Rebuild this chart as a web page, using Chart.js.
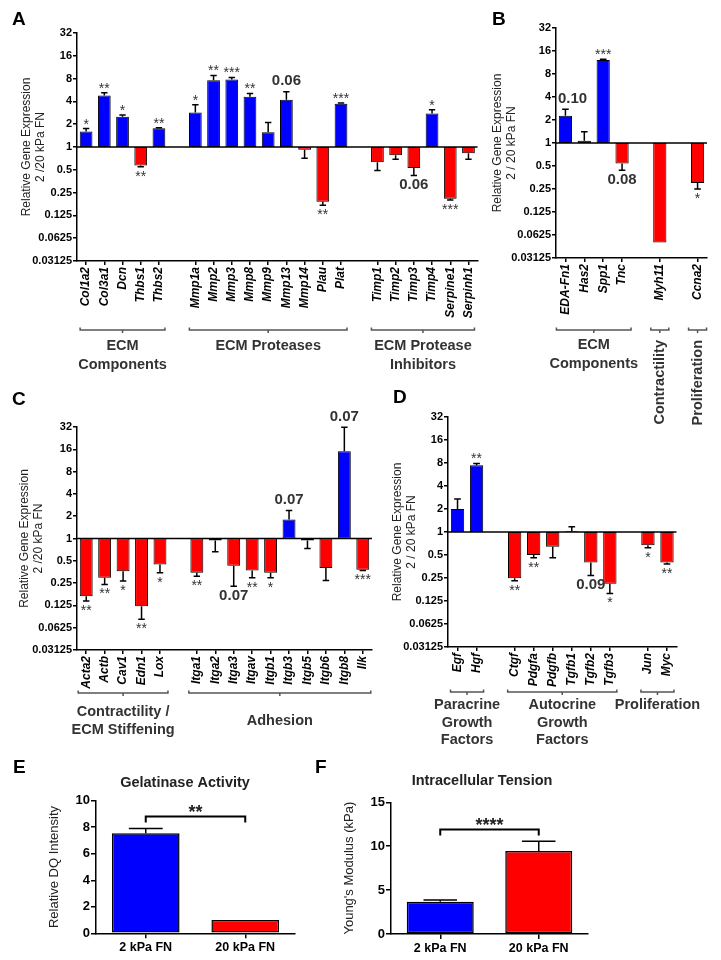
<!DOCTYPE html>
<html>
<head>
<meta charset="utf-8">
<title>Relative gene expression, 2 vs 20 kPa FN</title>
<script src="https://cdn.jsdelivr.net/npm/chart.js@4.4.1/dist/chart.umd.min.js"></script>
<style>
  body { margin: 0; background: #fff; }
  canvas { position: absolute; }
</style>
</head>
<body>
<canvas id="chartA" width="485" height="380" style="left:0;top:0"></canvas>
<canvas id="chartB" width="236" height="440" style="left:485px;top:0"></canvas>
<canvas id="chartC" width="380" height="380" style="left:0;top:380px"></canvas>
<canvas id="chartD" width="341" height="380" style="left:380px;top:380px"></canvas>
<canvas id="chartE" width="300" height="220" style="left:0;top:740px"></canvas>
<canvas id="chartF" width="330" height="220" style="left:300px;top:740px"></canvas>
<script>
// log2 axis used by panels A-D
const foldTicks = [0.03125, 0.0625, 0.125, 0.25, 0.5, 1, 2, 4, 8, 16, 32]

// A: ECM genes ('' = gap between groups)
const aGenes = ['Col1a2', 'Col3a1', 'Dcn', 'Thbs1', 'Thbs2', '', 'Mmp1a', 'Mmp2', 'Mmp3', 'Mmp8', 'Mmp9', 'Mmp13', 'Mmp14', 'Plau', 'Plat', '', 'Timp1', 'Timp2', 'Timp3', 'Timp4', 'Serpine1', 'Serpinh1']
const aValues = [1.6, 4.8, 2.5, 0.57, 1.77, null, 2.85, 7.6, 7.8, 4.6, 1.57, 4.2, 0.92, 0.19, 3.73, null, 0.63, 0.78, 0.53, 2.76, 0.207, 0.83]
const aErrors = [1.75, 5.2, 2.65, 0.55, 1.8, null, 3.6, 8.8, 8.3, 5.1, 2.1, 5.35, 0.71, 0.17, 3.8, null, 0.49, 0.69, 0.42, 3.1, 0.2, 0.69]
const aMarks = ['*', '**', '*', '**', '**', '', '*', '**', '***', '**', '', '0.06', '', '**', '***', '', '', '', '0.06', '*', '***', '']
const aGroupNames = ['ECM\nComponents', 'ECM Proteases', 'ECM Protease\nInhibitors']
const aGroupSpans = [[0, 4], [6, 14], [16, 21]]

// B
const bGenes = ['EDA-Fn1', 'Has2', 'Spp1', 'Tnc', '', 'Myh11', '', 'Ccna2']
const bValues = [2.28, 1.07, 12.2, 0.54, null, 0.0497, null, 0.30]
const bErrors = [2.76, 1.4, 12.5, 0.44, null, null, null, 0.25]
const bMarks = ['0.10', '', '***', '0.08', '', '', '', '*']
const bGroupNames = ['ECM\nComponents', 'Contractility', 'Proliferation']
const bGroupSpans = [[0, 3], [5, 5], [7, 7]]

// C
const cGenes = ['Acta2', 'Actb', 'Cav1', 'Edn1', 'Lox', '', 'Itga1', 'Itga2', 'Itga3', 'Itgav', 'Itgb1', 'Itgb3', 'Itgb5', 'Itgb6', 'Itgb8', 'Ilk']
const cValues = [0.166, 0.295, 0.36, 0.122, 0.445, null, 0.344, 0.94, 0.43, 0.37, 0.344, 1.8, 0.94, 0.40, 15.1, 0.38]
const cErrors = [0.143, 0.24, 0.266, 0.081, 0.344, null, 0.31, 0.66, 0.227, 0.295, 0.295, 2.39, 0.73, 0.27, 31.8, 0.37]
const cMarks = ['**', '**', '*', '**', '*', '', '**', '', '0.07', '**', '*', '0.07', '', '', '0.07', '***']
const cGroupNames = ['Contractility /\nECM Stiffening', 'Adhesion']
const cGroupSpans = [[0, 4], [6, 15]]

// D
const dGenes = ['Egf', 'Hgf', '', 'Ctgf', 'Pdgfa', 'Pdgfb', 'Tgfb1', 'Tgfb2', 'Tgfb3', '', 'Jun', 'Myc']
const dValues = [2.0, 7.46, null, 0.248, 0.5, 0.64, 1.02, 0.40, 0.21, null, 0.67, 0.40]
const dErrors = [2.7, 7.9, null, 0.23, 0.46, 0.46, 1.17, 0.27, 0.157, null, 0.62, 0.38]
const dMarks = ['', '**', '', '**', '**', '', '', '0.09', '*', '', '*', '**']
const dGroupNames = ['Paracrine\nGrowth\nFactors', 'Autocrine\nGrowth\nFactors', 'Proliferation']
const dGroupSpans = [[0, 1], [3, 8], [10, 11]]

// E, F
const conditions = ['2 kPa FN', '20 kPa FN']
const gelatinase = [7.55, 1.0]
const gelatinaseErr = [7.9, null]
const gelatinaseBracket = 8.8
const gelatinaseSig = '**'
const tension = [3.68, 9.45]
const tensionErr = [3.87, 10.56]
const tensionBracket = 11.9
const tensionSig = '****'

const FONT = '"Liberation Sans", Arial, sans-serif'
const BLUE = '#0000ff'
const RED = '#ff0000'

function drawLetter(ctx, letter, x, y) {
  ctx.save()
  ctx.fillStyle = '#000'
  ctx.font = 'bold 19px ' + FONT
  ctx.textAlign = 'left'
  ctx.textBaseline = 'alphabetic'
  ctx.fillText(letter, x, y)
  ctx.restore()
}

function geneChart(id, genes, values, errors, marks, groupNames, groupSpans, o) {
  const canvas = document.getElementById(id)
  const W = canvas.width, H = canvas.height

  const decor = {
    id: 'geneDecor',
    afterDatasetsDraw(chart) {
      const { ctx, chartArea: a, scales: { y } } = chart
      const meta = chart.getDatasetMeta(0)
      ctx.save()
      ctx.strokeStyle = '#000'
      ctx.lineWidth = 1.5
      const base = y.getPixelForValue(1)
      ctx.beginPath()
      ctx.moveTo(a.left, base)
      ctx.lineTo(a.right, base)
      ctx.stroke()

      values.forEach((v, i) => {
        if (v == null) return
        const bar = meta.data[i]
        const up = v > 1
        let end = y.getPixelForValue(v)
        const e = errors[i]
        if (e != null) {
          const pe = y.getPixelForValue(e)
          const half = bar.width / 4
          ctx.beginPath()
          ctx.moveTo(bar.x, end)
          ctx.lineTo(bar.x, pe)
          ctx.moveTo(bar.x - half, pe)
          ctx.lineTo(bar.x + half, pe)
          ctx.stroke()
          end = up ? Math.min(end, pe) : Math.max(end, pe)
        }
        const m = marks[i]
        if (!m) return
        ctx.fillStyle = '#333'
        ctx.textAlign = 'center'
        if (/\d/.test(m)) {
          ctx.font = 'bold 15px ' + FONT
          ctx.textBaseline = 'middle'
          const w = ctx.measureText(m).width
          const cx = Math.max(bar.x, a.left + w / 2 + 2)
          ctx.fillText(m, cx, up ? end - 10.5 : end + 9.5)
        } else {
          ctx.font = '14px ' + FONT
          ctx.textBaseline = 'alphabetic'
          ctx.fillText(m, bar.x, up ? end : end + 14)
        }
      })
      ctx.restore()
    },
    afterDraw(chart) {
      const { ctx, scales: { x } } = chart
      drawLetter(ctx, o.letter, o.letterX, o.letterY)
      const by = o.bracketY
      const maxLines = Math.max(...groupNames.map(n => n.split('\n').length))
      ctx.save()
      groupSpans.forEach(([f, l], k) => {
        const x1 = x.getPixelForTick(f) - o.ext
        const x2 = x.getPixelForTick(l) + o.ext
        const cx = (x1 + x2) / 2
        ctx.strokeStyle = '#555'
        ctx.lineWidth = 1.5
        ctx.beginPath()
        ctx.moveTo(x1, by - 2.5)
        ctx.lineTo(x1, by)
        ctx.lineTo(x2, by)
        ctx.lineTo(x2, by - 2.5)
        ctx.moveTo(cx, by)
        ctx.lineTo(cx, by + 3)
        ctx.stroke()

        const lines = groupNames[k].split('\n')
        ctx.fillStyle = '#333'
        ctx.font = 'bold 14.5px ' + FONT
        if (f === l) {
          // single bar group: label runs upward
          ctx.save()
          ctx.translate(cx, by + 10)
          ctx.rotate(-Math.PI / 2)
          ctx.textAlign = 'right'
          ctx.textBaseline = 'middle'
          ctx.fillText(lines[0], 0, 0)
          ctx.restore()
        } else {
          ctx.textAlign = 'center'
          ctx.textBaseline = 'middle'
          const y0 = by + o.groupDy + (o.centerGroups ? (maxLines - lines.length) * o.lineStep / 2 : 0)
          lines.forEach((t, j) => ctx.fillText(t, cx, y0 + j * o.lineStep))
        }
      })
      ctx.restore()
    }
  }

  return new Chart(canvas, {
    type: 'bar',
    data: {
      labels: genes,
      datasets: [{
        data: values.map(v => v == null ? null : [1, v]),
        backgroundColor: values.map(v => v > 1 ? BLUE : RED),
        borderColor: '#000',
        borderWidth: 1,
        borderSkipped: false,
        barPercentage: 0.7,
        categoryPercentage: 1
      }]
    },
    options: {
      responsive: false,
      animation: false,
      events: [],
      layout: { padding: { left: o.pad, top: o.area.t, right: W - o.area.r, bottom: 0 } },
      plugins: { legend: { display: false }, tooltip: { enabled: false } },
      scales: {
        x: {
          grid: {
            offset: false,
            drawOnChartArea: false,
            tickLength: 4,
            lineWidth: 1.5,
            color: c => genes[c.index] ? '#000' : 'rgba(0,0,0,0)'
          },
          border: { color: '#000', width: 1.5 },
          ticks: {
            autoSkip: false,
            minRotation: 90,
            maxRotation: 90,
            padding: 2,
            color: '#000',
            font: { family: FONT, size: 12, style: 'italic', weight: 'bold' }
          },
          afterFit: s => { s.height = H - o.area.b }
        },
        y: {
          type: 'logarithmic',
          min: 0.03125,
          max: 32,
          afterBuildTicks: s => { s.ticks = foldTicks.map(v => ({ value: v })) },
          ticks: {
            callback: v => String(v),
            padding: 1,
            color: '#000',
            font: { family: FONT, size: 11, weight: 'bold' }
          },
          grid: { drawOnChartArea: false, tickLength: 4, lineWidth: 1.5, color: '#000' },
          border: { color: '#000', width: 1.5 },
          title: {
            display: true,
            text: ['Relative Gene Expression', o.sub],
            padding: { top: 0, bottom: 0 },
            color: '#222',
            font: { family: FONT, size: 12, lineHeight: 1.125 }
          },
          afterFit: s => { s.width = o.area.l - o.pad }
        }
      }
    },
    plugins: [decor]
  })
}

function pairChart(id, values, errors, o) {
  const canvas = document.getElementById(id)
  const W = canvas.width, H = canvas.height

  const decor = {
    id: 'pairDecor',
    afterDatasetsDraw(chart) {
      const { ctx, scales: { x, y } } = chart
      const meta = chart.getDatasetMeta(0)
      ctx.save()
      ctx.strokeStyle = '#000'
      ctx.lineWidth = 1.5
      values.forEach((v, i) => {
        const e = errors[i]
        if (e == null) return
        const bar = meta.data[i]
        const half = bar.width / 4
        const p0 = y.getPixelForValue(v), p1 = y.getPixelForValue(e)
        ctx.beginPath()
        ctx.moveTo(bar.x, p0)
        ctx.lineTo(bar.x, p1)
        ctx.moveTo(bar.x - half, p1)
        ctx.lineTo(bar.x + half, p1)
        ctx.stroke()
      })
      const by = y.getPixelForValue(o.bracket)
      const x1 = x.getPixelForTick(0), x2 = x.getPixelForTick(1)
      ctx.lineWidth = 2
      ctx.beginPath()
      ctx.moveTo(x1, by + 6)
      ctx.lineTo(x1, by)
      ctx.lineTo(x2, by)
      ctx.lineTo(x2, by + 6)
      ctx.stroke()
      ctx.fillStyle = '#222'
      ctx.font = 'bold 18px ' + FONT
      ctx.textAlign = 'center'
      ctx.textBaseline = 'alphabetic'
      ctx.fillText(o.sig, (x1 + x2) / 2, by + 1)
      ctx.restore()
    },
    afterDraw(chart) {
      const ctx = chart.ctx
      drawLetter(ctx, o.letter, o.letterX, o.letterY)
      ctx.save()
      ctx.fillStyle = '#222'
      ctx.font = 'bold 14.5px ' + FONT
      ctx.textAlign = 'center'
      ctx.textBaseline = 'middle'
      ctx.fillText(o.title, o.titleX, o.titleY)
      ctx.restore()
    }
  }

  return new Chart(canvas, {
    type: 'bar',
    data: {
      labels: conditions,
      datasets: [{
        data: values,
        backgroundColor: [BLUE, RED],
        borderColor: '#000',
        borderWidth: 1.5,
        borderSkipped: false,
        barPercentage: 0.68,
        categoryPercentage: 1
      }]
    },
    options: {
      responsive: false,
      animation: false,
      events: [],
      layout: { padding: { left: o.pad, top: o.area.t, right: W - o.area.r, bottom: 0 } },
      plugins: { legend: { display: false }, tooltip: { enabled: false } },
      scales: {
        x: {
          grid: { offset: false, drawOnChartArea: false, tickLength: 5, lineWidth: 1.5, color: '#000' },
          border: { color: '#000', width: 1.5 },
          ticks: { padding: 2, color: '#000', font: { family: FONT, size: 12.5, weight: 'bold' } },
          afterFit: s => { s.height = H - o.area.b }
        },
        y: {
          min: 0,
          max: o.max,
          ticks: { stepSize: o.step, padding: 1, color: '#000', font: { family: FONT, size: 13, weight: 'bold' } },
          grid: { drawOnChartArea: false, tickLength: 5, lineWidth: 1.5, color: '#000' },
          border: { color: '#000', width: 1.5 },
          title: {
            display: true,
            text: o.ytitle,
            padding: { top: 0, bottom: 0 },
            color: '#222',
            font: { family: FONT, size: 13, lineHeight: 1.2 }
          },
          afterFit: s => { s.width = o.area.l - o.pad }
        }
      }
    },
    plugins: [decor]
  })
}

geneChart('chartA', aGenes, aValues, aErrors, aMarks, aGroupNames, aGroupSpans, {
  area: { l: 77, t: 33, r: 479, b: 261 }, pad: 20, sub: '2 /20 kPa FN',
  letter: 'A', letterX: 12, letterY: 25,
  bracketY: 330, groupDy: 16, lineStep: 18.5, ext: 6, centerGroups: false
})

geneChart('chartB', bGenes, bValues, bErrors, bMarks, bGroupNames, bGroupSpans, {
  area: { l: 71, t: 28, r: 222, b: 258 }, pad: 6, sub: '2 / 20 kPa FN',
  letter: 'B', letterX: 7, letterY: 25,
  bracketY: 330, groupDy: 15, lineStep: 19, ext: 9, centerGroups: false
})

geneChart('chartC', cGenes, cValues, cErrors, cMarks, cGroupNames, cGroupSpans, {
  area: { l: 77, t: 47, r: 372, b: 270 }, pad: 18, sub: '2 /20 kPa FN',
  letter: 'C', letterX: 12, letterY: 25,
  bracketY: 313, groupDy: 19, lineStep: 18, ext: 8, centerGroups: true
})

geneChart('chartD', dGenes, dValues, dErrors, dMarks, dGroupNames, dGroupSpans, {
  area: { l: 68, t: 37, r: 296.5, b: 267 }, pad: 11, sub: '2 / 20 kPa FN',
  letter: 'D', letterX: 13, letterY: 23,
  bracketY: 312, groupDy: 13, lineStep: 17.5, ext: 7, centerGroups: false
})

pairChart('chartE', gelatinase, gelatinaseErr, {
  area: { l: 96, t: 60.7, r: 295, b: 193.3 }, pad: 47, max: 10, step: 2,
  ytitle: 'Relative DQ Intensity', title: 'Gelatinase Activity', titleX: 185, titleY: 43,
  letter: 'E', letterX: 13, letterY: 33, bracket: gelatinaseBracket, sig: gelatinaseSig
})

pairChart('chartF', tension, tensionErr, {
  area: { l: 91, t: 62.3, r: 288, b: 194 }, pad: 42, max: 15, step: 5,
  ytitle: "Young's Modulus (kPa)", title: 'Intracellular Tension', titleX: 182, titleY: 41,
  letter: 'F', letterX: 15, letterY: 33, bracket: tensionBracket, sig: tensionSig
})
</script>
</body>
</html>
